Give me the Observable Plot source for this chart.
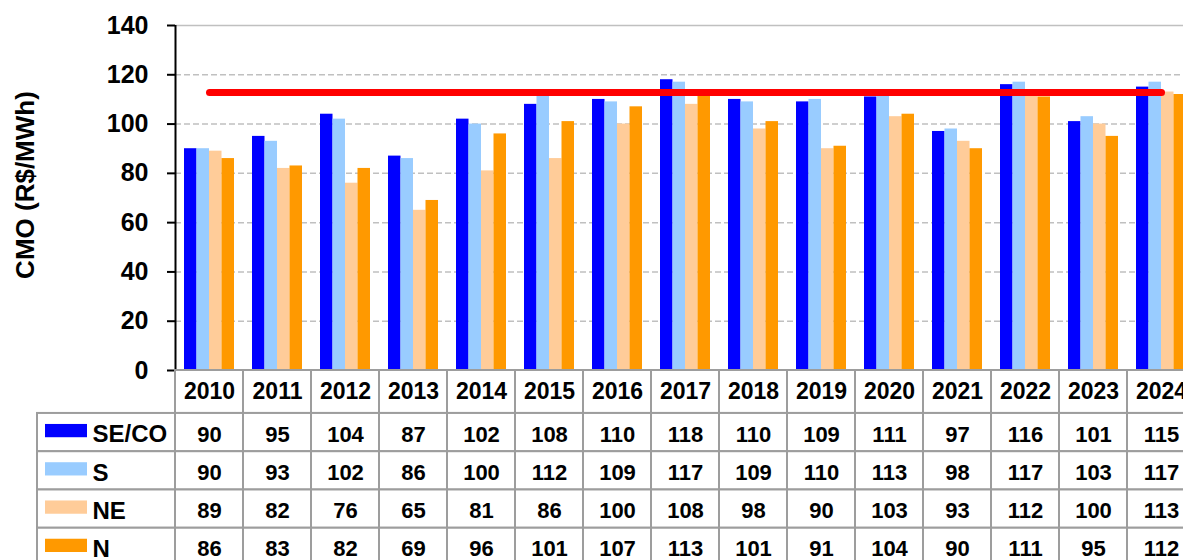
<!DOCTYPE html>
<html>
<head>
<meta charset="utf-8">
<script src="https://cdn.jsdelivr.net/npm/d3@7"></script>
<script src="https://cdn.jsdelivr.net/npm/@observablehq/plot@0.6"></script>
<style>
  html, body { margin: 0; padding: 0; background: #fff; overflow: hidden; }
  #wrap { position: relative; width: 1183px; height: 560px; overflow: hidden; font-family: "Liberation Sans", Arial, sans-serif; }
  #chart { position: absolute; left: 0; top: 0; }
  #table { position: absolute; left: 0; top: 370px; }
</style>
</head>
<body>
<div id="wrap"><div id="chart"></div><div id="table"></div></div>
<script>
// ---- data ----
const years = [2010, 2011, 2012, 2013, 2014, 2015, 2016, 2017, 2018, 2019, 2020, 2021, 2022, 2023, 2024];
const series = ["SE/CO", "S", "NE", "N"];
const seriesColors = ["#0000ff", "#99ccff", "#ffcc99", "#ff9900"];
const valuesSECO = [90, 95, 104, 87, 102, 108, 110, 118, 110, 109, 111, 97, 116, 101, 115];
const valuesS    = [90, 93, 102, 86, 100, 112, 109, 117, 109, 110, 113, 98, 117, 103, 117];
const valuesNE   = [89, 82, 76, 65, 81, 86, 100, 108, 98, 90, 103, 93, 112, 100, 113];
const valuesN    = [86, 83, 82, 69, 96, 101, 107, 113, 101, 91, 104, 90, 111, 95, 112];
const referenceLevel = 112.8;
const yTicks = [0, 20, 40, 60, 80, 100, 120, 140];
const yLabel = "CMO (R$/MWh)";

// ---- derived tables ----
const seriesValues = [valuesSECO, valuesS, valuesNE, valuesN];
const long = series.flatMap((s, k) => years.map((yr, i) => ({year: yr, col: i, series: s, row: k, value: seriesValues[k][i]})));
const refPts = [years[0], years[years.length - 1]].map(yr => ({col: years.indexOf(yr) + 0.5, v: referenceLevel}));

// ---- layout ----
const colW = 68, tableLeft = 37, plotLeft = 175;
const W = plotLeft + colW * years.length;
const labelCols = (plotLeft - tableLeft) / colW;
const inner = d3.scaleBand().domain(series).range([0, 1]).paddingInner(0).paddingOuter(0.72);
const svgStyle = {maxWidth: "none", background: "transparent", overflow: "visible", fontFamily: "'Liberation Sans', Arial, sans-serif", fontWeight: "bold", color: "black"};

const chart = Plot.plot({
  width: W, height: 382,
  marginLeft: plotLeft, marginRight: 0, marginTop: 25, marginBottom: 12,
  style: svgStyle,
  x: {type: "linear", domain: [0, years.length], axis: null},
  y: {domain: [0, 140], axis: null},
  color: {domain: series, range: seriesColors},
  marks: [
    Plot.gridY(yTicks.filter(t => t > 0 && t < 140), {stroke: "#c0c0c0", strokeOpacity: 1, strokeWidth: 1.5, strokeDasharray: "6,3"}),
    Plot.gridY([140], {stroke: "#c0c0c0", strokeOpacity: 1, strokeWidth: 1.5}),
    Plot.rectY(long, {
      x1: d => d.col + inner(d.series),
      x2: d => d.col + inner(d.series) + inner.bandwidth(),
      y: "value", fill: "series"
    }),
    Plot.lineY(refPts, {x: "col", y: "v", stroke: "#ff0000", strokeWidth: 7, strokeLinecap: "round"}),
    Plot.ruleX([0], {stroke: "black", strokeWidth: 2}),
    Plot.axisY(yTicks, {anchor: "left", tickSize: 8, tickPadding: 19, fontSize: 25, fontWeight: "bold", strokeWidth: 2, stroke: "black", fill: "black", label: null}),
    Plot.text([yLabel], {frameAnchor: "left", textAnchor: "middle", rotate: -90, dx: -150, dy: -13, fontSize: 26, fontWeight: "bold", fill: "black"})
  ]
});
document.getElementById("chart").append(chart);

// ---- data table ----
const hdr = 43 / 38.3;
const rowY = k => hdr + k;
const headerCells = years.map((yr, i) => ({x1: i, x2: i + 1, y1: 0, y2: hdr, text: String(yr)}));
const labelCells = series.map((s, k) => ({x1: -labelCols, x2: 0, y1: rowY(k), y2: rowY(k) + 1, series: s}));
const valueCells = long.map(d => ({x1: d.col, x2: d.col + 1, y1: rowY(d.row), y2: rowY(d.row) + 1, text: String(d.value)}));

const table = Plot.plot({
  width: W, height: 196,
  marginLeft: tableLeft, marginRight: 0, marginTop: 0, marginBottom: 0,
  style: svgStyle,
  x: {type: "linear", domain: [-labelCols, years.length], axis: null},
  y: {type: "linear", domain: [0, hdr + series.length], reverse: true, axis: null},
  color: {domain: series, range: seriesColors},
  marks: [
    Plot.rect([...headerCells, ...labelCells, ...valueCells], {x1: "x1", x2: "x2", y1: "y1", y2: "y2", fill: "white", stroke: "#9d9d9d", strokeWidth: 2}),
    Plot.text(headerCells, {x: d => (d.x1 + d.x2) / 2, y: d => (d.y1 + d.y2) / 2, text: "text", fontSize: 23, fontWeight: "bold", fill: "black"}),
    Plot.text(valueCells, {x: d => (d.x1 + d.x2) / 2, y: d => (d.y1 + d.y2) / 2, text: "text", fontSize: 22, fontWeight: "bold", fill: "black", dy: 2}),
    Plot.rect(labelCells, {x1: "x1", x2: "x2", y1: "y1", y2: "y2", fill: "series", insetLeft: 8, insetRight: 88, insetTop: 11, insetBottom: 14}),
    Plot.text(labelCells, {x: "x1", y: d => (d.y1 + d.y2) / 2, text: "series", dx: 55, textAnchor: "start", fontSize: 24, fontWeight: "bold", fill: "black", dy: 2})
  ]
});
document.getElementById("table").append(table);
</script>
</body>
</html>
